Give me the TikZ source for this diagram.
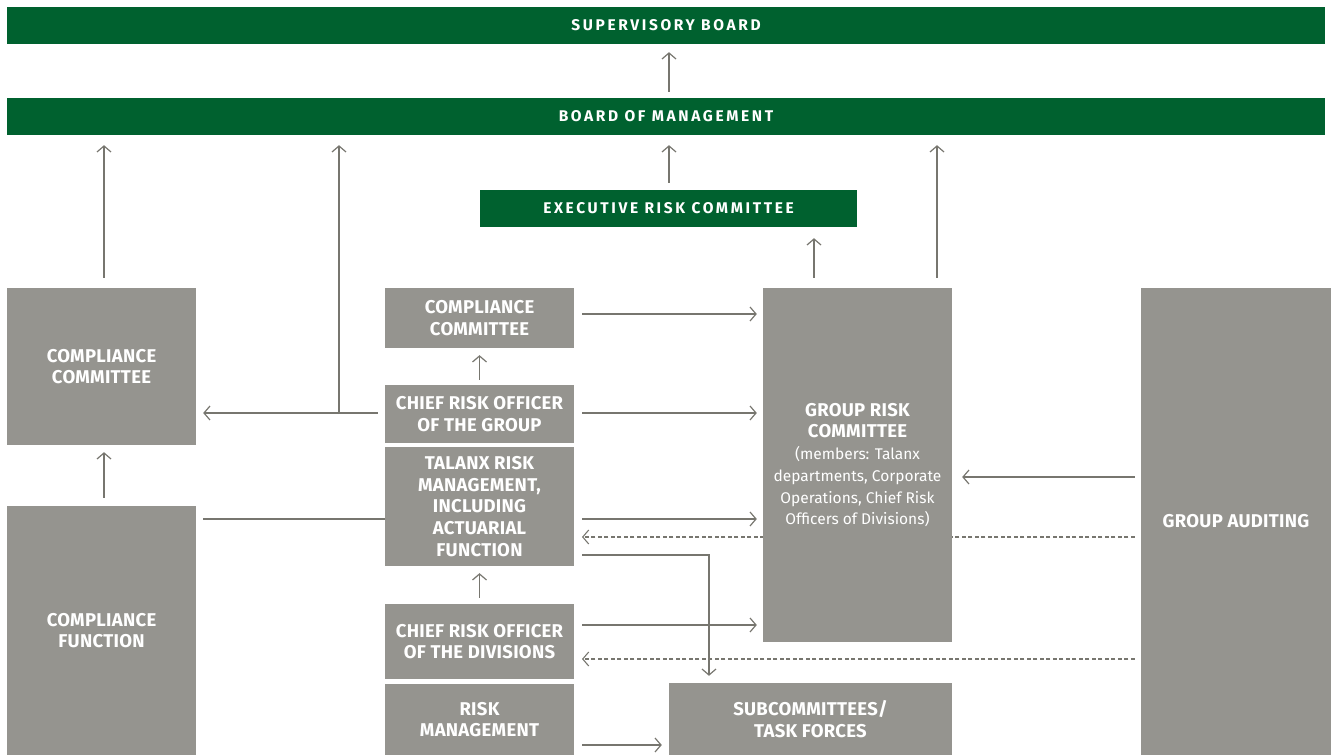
\documentclass[tikz,border=0pt]{standalone}
\usepackage{fontspec}
\setmainfont{Fira Sans}
\newfontfamily\hdrfont[LetterSpace=17]{Fira Sans}
\newfontfamily\boxfont[LetterSpace=1.5]{Fira Sans}
\usetikzlibrary{arrows.meta,calc}
\definecolor{tgreen}{HTML}{00612F}
\definecolor{tgray}{HTML}{95948F}
\definecolor{agray}{HTML}{77766F}
\tikzset{
  gbox/.style={fill=tgray, inner sep=0pt, text=white, align=center, font=\fontsize{18.5}{21.7}\selectfont\boxfont\bfseries},
  hbox/.style={fill=tgreen, inner sep=0pt, text=white, align=center, font=\fontsize{15.5}{18}\selectfont\hdrfont\bfseries},
  arr/.style={draw=agray, line width=1.2pt, -{Straight Barb[length=6pt,width=14pt]}},
  plain/.style={draw=agray, line width=1.2pt},
  dsh/.style={draw=agray, line width=1.1pt, dash pattern=on 4pt off 2.5pt, -{Straight Barb[length=6pt,width=14pt]}},
}
\newcommand{\memb}[1]{{\normalfont\mdseries\fontsize{15.5}{21.3}\selectfont #1}}
\newcommand{\hdr}[1]{\raisebox{-1.5pt}{#1}}
\begin{document}
\begin{tikzpicture}[x=1pt,y=-1pt]
\useasboundingbox (0,0) rectangle (1331,755);
% level coordinates
\coordinate (y477) at (0,477);
\coordinate (y519) at (0,519);
\coordinate (y537) at (0,537);
\coordinate (y555) at (0,555);
\coordinate (y625) at (0,625);
\coordinate (y659) at (0,659);
\coordinate (y745) at (0,745);
\coordinate (x709) at (709,0);
\coordinate (j1) at (339,414);
% nodes
\node[hbox, minimum width=1318pt, minimum height=37pt] (sb) at (666,25.5) {\hdr{SUPERVISORY BOARD}};
\node[hbox, minimum width=1318pt, minimum height=37pt] (bom) at (666,116.5) {\hdr{BOARD OF MANAGEMENT}};
\node[hbox, minimum width=377pt, minimum height=37pt] (erc) at (668.5,208.5) {\hdr{EXECUTIVE RISK COMMITTEE}};
\node[gbox, minimum width=190pt, minimum height=467pt] (ga) at (1236,521.5) {GROUP AUDITING};
% dashed lines first (pass behind group risk committee)
\draw[dsh] ([xshift=-6pt]ga.west |- y537) -- ($(y537 -| 574,0)+(8pt,0)$) coordinate (d1);
\draw[dsh] ([xshift=-6pt]ga.west |- y659) -- ($(y659 -| 574,0)+(8pt,0)$) coordinate (d2);
\node[gbox, minimum width=189pt, minimum height=157pt] (lcc) at (101.5,366.5) {COMPLIANCE\\COMMITTEE};
\node[gbox, minimum width=189pt, minimum height=249pt] (cf) at (101.5,630.5) {COMPLIANCE\\FUNCTION};
\node[gbox, minimum width=189pt, minimum height=60pt] (ccc) at (479.5,318) {COMPLIANCE\\COMMITTEE};
\node[gbox, minimum width=189pt, minimum height=58pt] (crog) at (479.5,414) {CHIEF RISK OFFICER\\OF THE GROUP};
\node[gbox, minimum width=189pt, minimum height=119pt] (trm) at (479.5,506.5) {TALANX RISK\\MANAGEMENT,\\INCLUDING\\ACTUARIAL\\FUNCTION};
\node[gbox, minimum width=189pt, minimum height=75pt] (crod) at (479.5,641.5) {CHIEF RISK OFFICER\\OF THE DIVISIONS};
\node[gbox, minimum width=189pt, minimum height=71pt] (rm) at (479.5,719.5) {RISK\\MANAGEMENT};
\node[gbox, minimum width=189pt, minimum height=354pt] (grc) at (857.5,465) {GROUP RISK\\COMMITTEE\\\memb{(members: Talanx}\\\memb{departments, Corporate}\\\memb{Operations, Chief Risk}\\\memb{Officers of Divisions)}};
\node[gbox, minimum width=283pt, minimum height=72pt] (sub) at (810.5,719) {SUBCOMMITTEES/\\TASK FORCES};
% arrows
\draw[arr] ([xshift=3pt,yshift=6pt]bom.north) -- ([xshift=3pt,yshift=-8pt]sb.south);
\draw[arr] ([xshift=2.5pt,yshift=10pt]lcc.north) -- ($(lcc.north |- bom.south)+(2.5pt,-10pt)$);
\draw[arr] (j1) -- ($(j1 |- bom.south)+(0,-10pt)$);
\draw[arr] ([xshift=0.5pt,yshift=7pt]erc.north) -- ($(erc.north |- bom.south)+(0.5pt,-10pt)$);
\draw[arr] ($(grc.north)+(-43.5pt,10pt)$) -- ($(grc.north |- erc.south)+(-43.5pt,-11pt)$);
\draw[arr] ($(grc.north)+(79.5pt,10pt)$) -- ($(grc.north |- bom.south)+(79.5pt,-10pt)$);
\draw[arr] ([xshift=2.5pt,yshift=8pt]cf.north) -- ([xshift=2.5pt,yshift=-7pt]lcc.south);
\draw[arr] ([xshift=-7pt,yshift=1pt]crog.west) -- ($(lcc.east |- crog.west)+(7pt,1pt)$);
\draw[arr] ([xshift=8pt,yshift=4pt]ccc.east) -- ($(grc.west |- ccc.east)+(-6pt,4pt)$);
\draw[arr] ([xshift=8pt,yshift=1pt]crog.east) -- ($(grc.west |- crog.east)+(-6pt,1pt)$);
\draw[arr] ([yshift=5pt]crog.north) -- ([yshift=-7pt]ccc.south);
\draw[arr] ([yshift=6pt]crod.north) -- ([yshift=-7pt]trm.south);
\draw[plain] ($(cf.east |- y519)+(7pt,0)$) -- (trm.west |- y519);
\draw[arr] ($(trm.east |- y519)+(8pt,0)$) -- ($(grc.west |- y519)+(-6pt,0)$);
\draw[arr] ($(ga.west |- y477)+(-6pt,0)$) -- ($(grc.east |- y477)+(10pt,0)$);
\draw[arr] ($(trm.east |- y555)+(8pt,0)$) -| ($(sub.north -| x709)+(0,7pt)$);
\draw[arr] ($(crod.east |- y625)+(8pt,0)$) -- ($(grc.west |- y625)+(-6pt,0)$);
\draw[arr] ($(rm.east |- y745)+(8pt,0)$) -- ($(sub.west |- y745)+(-7pt,0)$);
\end{tikzpicture}
\end{document}
